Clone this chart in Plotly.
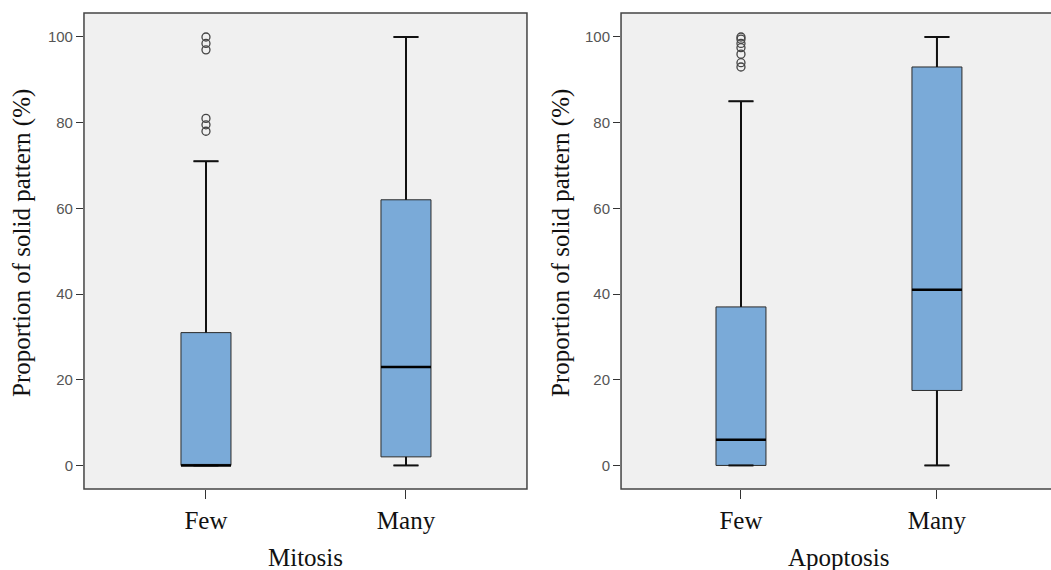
import plotly.graph_objects as go

# Summary statistics of the proportion of solid pattern (%) per group
categories = ["Few", "Many"]

mitosis_lower = [0, 0]
mitosis_q1 = [0, 2]
mitosis_median = [0, 23]
mitosis_q3 = [31, 62]
mitosis_upper = [71, 100]
mitosis_outliers_few = [100, 98.5, 97, 81, 79.5, 78]

apoptosis_lower = [0, 0]
apoptosis_q1 = [0, 17.5]
apoptosis_median = [6, 41]
apoptosis_q3 = [37, 93]
apoptosis_upper = [85, 100]
apoptosis_outliers_few = [100, 99.5, 98.5, 97.5, 96, 94, 93]

BOX_FILL = "#7aaad8"
BOX_EDGE = "#2b2b2b"
SERIF = "Liberation Serif"
SANS = "Liberation Sans"

fig = go.Figure()


def add_panel(xref, yref, lower, q1, med, q3, upper, outliers, box_w):
    pos = list(range(len(categories)))
    fig.add_trace(go.Box(
        x=pos, q1=q1, median=med, q3=q3, lowerfence=lower, upperfence=upper,
        width=box_w, whiskerwidth=0.5, fillcolor=BOX_FILL,
        line=dict(color=BOX_EDGE, width=1), boxpoints=False,
        xaxis=xref, yaxis=yref, showlegend=False, hoverinfo="skip",
    ))
    # whiskers, caps and medians drawn heavier than the box outline
    xs, ys = [], []
    half = box_w / 2
    cap = box_w / 4
    for i in pos:
        xs += [i, i, None, i - cap, i + cap, None]
        ys += [q3[i], upper[i], None, upper[i], upper[i], None]
        xs += [i, i, None, i - cap, i + cap, None]
        ys += [q1[i], lower[i], None, lower[i], lower[i], None]
    fig.add_trace(go.Scatter(
        x=xs, y=ys, mode="lines", line=dict(color="#111111", width=2),
        xaxis=xref, yaxis=yref, showlegend=False, hoverinfo="skip",
    ))
    mx, my = [], []
    for i in pos:
        mx += [i - half, i + half, None]
        my += [med[i], med[i], None]
    fig.add_trace(go.Scatter(
        x=mx, y=my, mode="lines", line=dict(color="#000000", width=2.5),
        xaxis=xref, yaxis=yref, showlegend=False, hoverinfo="skip",
    ))
    fig.add_trace(go.Scatter(
        x=[0] * len(outliers), y=outliers, mode="markers",
        marker=dict(symbol="circle-open", size=8, color="#444444",
                    line=dict(width=1.3)),
        xaxis=xref, yaxis=yref, showlegend=False, hoverinfo="skip",
    ))


add_panel("x", "y", mitosis_lower, mitosis_q1, mitosis_median, mitosis_q3,
          mitosis_upper, mitosis_outliers_few, 0.25)
add_panel("x2", "y2", apoptosis_lower, apoptosis_q1, apoptosis_median,
          apoptosis_q3, apoptosis_upper, apoptosis_outliers_few, 0.255)

ydom = [0.1421, 0.9772]
yrange = [-5.5, 105.6]
yticks = [0, 20, 40, 60, 80, 100]

common_y = dict(range=yrange, tickvals=yticks, ticks="outside", ticklen=7,
                tickcolor="#333333", tickwidth=1.2, showgrid=False,
                zeroline=False, showline=False,
                tickfont=dict(family=SANS, size=15, color="#555555"),
                domain=ydom)
common_x = dict(tickvals=[0, 1], ticktext=categories, ticks="outside",
                ticklen=9, tickcolor="#333333", tickwidth=1.2,
                showgrid=False, zeroline=False, showline=False,
                tickfont=dict(family=SERIF, size=25, color="#111111"))

fig.update_layout(
    width=1051, height=570,
    margin=dict(l=0, r=0, t=0, b=0),
    paper_bgcolor="white", plot_bgcolor="#f0f0f0",
    xaxis=dict(common_x, domain=[0.0799, 0.5014], range=[-0.61, 1.605]),
    yaxis=dict(common_y, anchor="x"),
    xaxis2=dict(common_x, domain=[0.5909, 1.0], range=[-0.612, 1.582],
                anchor="y2"),
    yaxis2=dict(common_y, anchor="x2"),
)

# panel frames (the right frame runs past the page edge)
fig.add_shape(type="rect", xref="x domain", yref="y domain", x0=0, x1=1,
              y0=0, y1=1, line=dict(color="#444444", width=1.5), layer="above")
fig.add_shape(type="rect", xref="x2 domain", yref="y2 domain", x0=0, x1=1.05,
              y0=0, y1=1, line=dict(color="#444444", width=1.5), layer="above")

title_font = dict(family=SERIF, size=25, color="#111111")
annotations = [
    dict(text="Proportion of solid pattern (%)", x=22 / 1051, y=1 - 243 / 570,
         textangle=-90),
    dict(text="Proportion of solid pattern (%)", x=561 / 1051, y=1 - 243 / 570,
         textangle=-90),
    dict(text="Mitosis", x=305 / 1051, y=1 - 557 / 570),
    dict(text="Apoptosis", x=838 / 1051, y=1 - 557 / 570),
]
for a in annotations:
    fig.add_annotation(xref="paper", yref="paper", showarrow=False,
                       xanchor="center", yanchor="middle", font=title_font, **a)

fig.write_html("out.html")
